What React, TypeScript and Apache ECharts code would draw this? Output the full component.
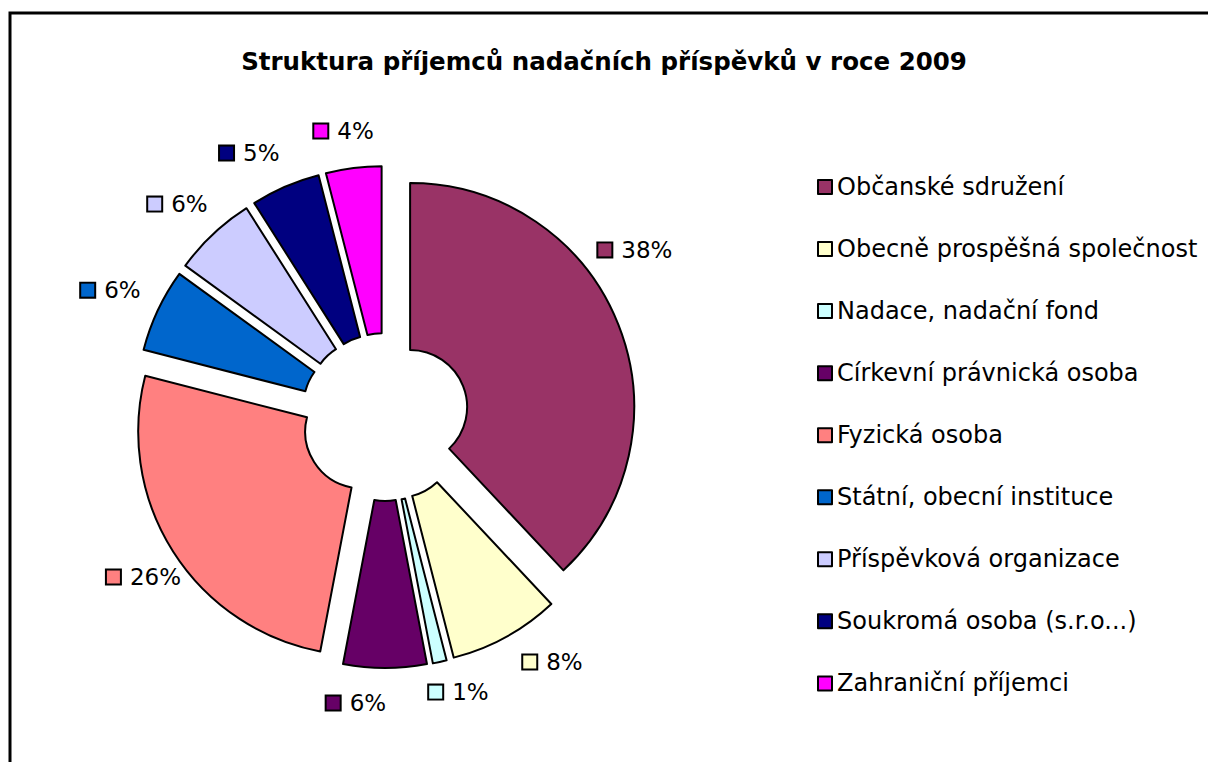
import React, { useEffect, useRef } from 'react';
import * as echarts from 'echarts';

const TITLE = 'Struktura příjemců nadačních příspěvků v roce 2009';
const categories = [
  'Občanské sdružení',
  'Obecně prospěšná společnost',
  'Nadace, nadační fond',
  'Církevní právnická osoba',
  'Fyzická osoba',
  'Státní, obecní instituce',
  'Příspěvková organizace',
  'Soukromá osoba (s.r.o...)',
  'Zahraniční příjemci',
];
const values = [38, 8, 1, 6, 26, 6, 6, 5, 4];
const colors = ['#993366', '#FFFFCC', '#CCFFFF', '#660066', '#FF8080', '#0066CC', '#CCCCFF', '#000080', '#FF00FF'];

// layout (not data)
const CX = 385;
const CY = 417;
const R_OUT = 224;
const R_IN = 57;
const EXPLODE = 27;
const LABEL_DIST = [274.7, 270.2, 257.9, 260.6, 262.3, 275, 270, 269.6, 261.9];
const LABEL_ANGLE_ADJ = [-13.3, -6.2, -2.7, 6.3, -1.3, -0.4, -1.1, -4.1, -1.05];
const FONT = 'DejaVu Sans';

export default function App() {
  const ref = useRef<HTMLDivElement>(null);
  useEffect(() => {
    if (!ref.current) return;
    const chart = echarts.init(ref.current, undefined, { renderer: 'svg' });
    const total = values.reduce((a, b) => a + b, 0);
    let cum = 0;
    const series = values.map((v, s) => {
      const mid = ((cum + v / 2) / total) * 360;
      cum += v;
      const rad = (mid * Math.PI) / 180;
      const cxs = CX + EXPLODE * Math.sin(rad);
      const cys = CY - EXPLODE * Math.cos(rad);
      const la = ((mid + LABEL_ANGLE_ADJ[s]) * Math.PI) / 180;
      const lx = cxs + LABEL_DIST[s] * Math.sin(la);
      const ly = cys - LABEL_DIST[s] * Math.cos(la);
      return {
        type: 'pie',
        name: categories[s],
        center: [cxs, cys],
        radius: [R_IN, R_OUT],
        startAngle: 90,
        clockwise: true,
        avoidLabelOverlap: false,
        silent: true,
        emphasis: { disabled: true },
        labelLine: { show: false },
        label: { show: false },
        labelLayout: (p: any) =>
          p.dataIndex === s ? { x: lx, y: ly, align: 'center', verticalAlign: 'middle' } : {},
        data: values.map((val, i) =>
          i === s
            ? {
                value: val,
                name: categories[i],
                itemStyle: { color: colors[i], borderColor: '#000', borderWidth: 2 },
                label: {
                  show: true,
                  position: 'outside',
                  formatter: `{m|}{t|${val}%}`,
                  rich: {
                    m: {
                      width: 13,
                      height: 13,
                      backgroundColor: colors[i],
                      borderColor: '#000',
                      borderWidth: 2,
                      verticalAlign: 'middle',
                    },
                    t: {
                      fontFamily: FONT,
                      fontSize: 23,
                      lineHeight: 23,
                      color: '#000',
                      padding: [0, 0, 0, 10],
                      verticalAlign: 'middle',
                    },
                  },
                },
              }
            : {
                value: val,
                name: categories[i],
                itemStyle: { color: 'rgba(0,0,0,0)', borderWidth: 0 },
                label: { show: false },
              }
        ),
      };
    });

    chart.setOption({
      animation: false,
      backgroundColor: '#ffffff',
      title: {
        text: TITLE,
        left: 'center',
        top: 49,
        padding: 0,
        textStyle: { fontFamily: FONT, fontSize: 24.5, fontWeight: 'bold', color: '#000', lineHeight: 25 },
      },
      legend: {
        orient: 'vertical',
        left: 817,
        top: 175,
        padding: 0,
        itemGap: 38.05,
        itemWidth: 14,
        itemHeight: 14,
        icon: 'rect',
        selectedMode: false,
        itemStyle: { borderColor: '#000', borderWidth: 2 },
        textStyle: { fontFamily: FONT, fontSize: 24, lineHeight: 23, color: '#000' },
        data: categories.map((n, i) => ({ name: n, itemStyle: { color: colors[i] } })),
      },
      graphic: [
        {
          type: 'rect',
          shape: { x: 10, y: 13, width: 1400, height: 900 },
          style: { fill: 'none', stroke: '#000', lineWidth: 3 },
          silent: true,
        },
      ],
      series,
    });
    return () => chart.dispose();
  }, []);
  return <div ref={ref} style={{ position: 'absolute', left: 0, top: 0, width: 1208, height: 762 }} />;
}
